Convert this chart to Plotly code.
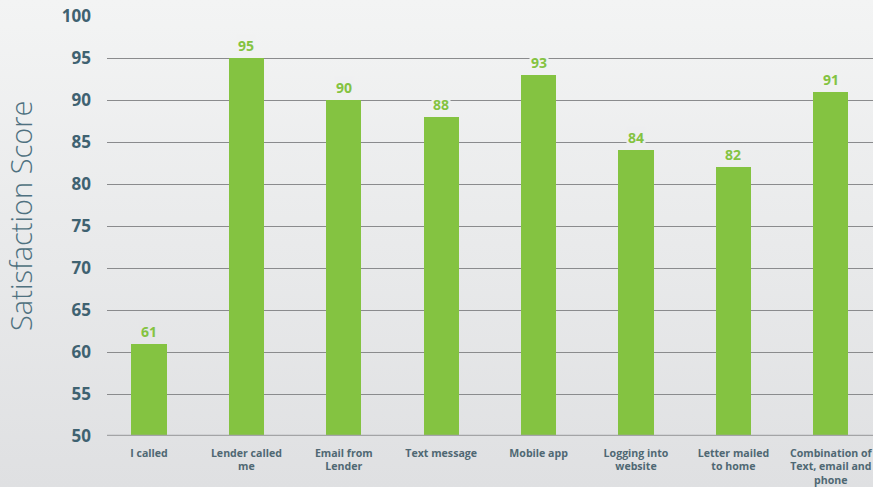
import base64
import plotly.graph_objects as go

categories = ["I called", "Lender called<br>me", "Email from<br>Lender", "Text message",
              "Mobile app", "Logging into<br>website", "Letter mailed<br>to home",
              "Combination of<br>Text, email and<br>phone"]
scores = [61, 95, 90, 88, 93, 84, 82, 91]
y_ticks = [50, 55, 60, 65, 70, 75, 80, 85, 90, 95, 100]

W, H = 873, 487
L, R, T, B = 107, 0, 16, 51
pw, ph = W - L - R, H - T - B
TOP_C = (0xf3, 0xf4, 0xf4)
BOT_C = (0xdf, 0xe0, 0xe2)

svg = ('<svg xmlns="http://www.w3.org/2000/svg" width="100" height="100" preserveAspectRatio="none">'
       '<defs><linearGradient id="g" x1="0" y1="0" x2="0" y2="1">'
       '<stop offset="0" stop-color="#f3f4f4"/><stop offset="1" stop-color="#dfe0e2"/>'
       '</linearGradient></defs><rect width="100" height="100" fill="url(#g)"/></svg>')
src = "data:image/svg+xml;base64," + base64.b64encode(svg.encode()).decode()


def bg_at(v):
    py = T + ph * (100 - v) / 50 - 10
    f = max(0, min(1, py / H))
    c = [round(a + (b - a) * f) for a, b in zip(TOP_C, BOT_C)]
    return "rgb(%d,%d,%d)" % tuple(c)


x_idx = list(range(len(categories)))

fig = go.Figure()
fig.add_trace(go.Bar(
    x=x_idx, y=scores, width=0.36, marker_color="#84c341", marker_line_width=0,
    hoverinfo="skip",
))

for i, v in zip(x_idx, scores):
    fig.add_annotation(x=i, y=v, text=f"<b>{v}</b>", showarrow=False, yanchor="bottom",
                       yshift=1, font=dict(family="Open Sans", size=14, color="#84c341"),
                       bgcolor=bg_at(v), borderpad=1)

fig.add_annotation(xref="paper", yref="paper", x=(20 - L) / pw, y=(T + ph - 216) / ph,
                   text="Satisfaction Score", textangle=-90, showarrow=False,
                   xanchor="center", yanchor="middle",
                   font=dict(family="Open Sans", size=29, weight=300, color="#4f7180"))

fig.update_layout(
    width=W, height=H,
    margin=dict(l=L, r=R, t=T, b=B, autoexpand=False),
    paper_bgcolor="#e9eaeb", plot_bgcolor="rgba(0,0,0,0)",
    showlegend=False, bargap=0,
    images=[dict(source=src, xref="paper", yref="paper",
                 x=-L / pw, y=(ph + T) / ph, sizex=W / pw, sizey=H / ph,
                 xanchor="left", yanchor="top", sizing="stretch", layer="below")],
    xaxis=dict(
        range=[-0.431, 7.433], tickmode="array", tickvals=x_idx,
        ticktext=[f"<b>{c}</b>" for c in categories],
        tickfont=dict(family="Open Sans", size=10.6, color="#4f6873"),
        showgrid=False, zeroline=False, showline=False, ticks="",
        ticklabelstandoff=9, ticklabeloverflow="allow",
    ),
    yaxis=dict(
        range=[50, 100], tickmode="array", tickvals=y_ticks,
        ticktext=[f"<b>{t}</b>" for t in y_ticks],
        tickfont=dict(family="Open Sans", size=17, color="#3f6271"),
        showgrid=True, gridcolor="#8a8b8d", gridwidth=1.3,
        zeroline=False, showline=False, ticks="", ticklabelstandoff=15,
    ),
    shapes=[dict(type="line", xref="paper", yref="y", x0=0, x1=1, y0=50, y1=50,
                 line=dict(color="#a3a4a6", width=2.5), layer="above")],
)

fig.write_html("out.html", config={"displayModeBar": False},
               post_script="document.body.style.margin='0';document.body.style.overflow='hidden';")
